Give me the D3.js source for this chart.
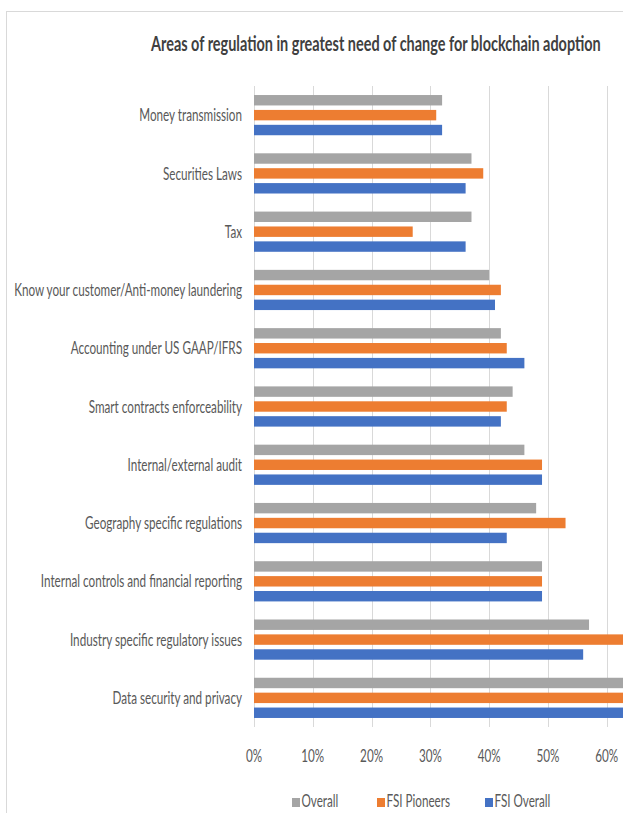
<!DOCTYPE html>
<html>
<head>
<meta charset="utf-8">
<script src="https://cdn.jsdelivr.net/npm/d3@7"></script>
<style>
  html, body { margin: 0; padding: 0; background: #fff; overflow: hidden; }
  svg { display: block; }
  text { font-family: Lato, "Open Sans", "DejaVu Sans", sans-serif; }
</style>
</head>
<body>
<svg id="chart" width="623" height="813"></svg>
<script>
// Regulation areas, listed top to bottom
const categories = [
  "Money transmission",
  "Securities Laws",
  "Tax",
  "Know your customer/Anti-money laundering",
  "Accounting under US GAAP/IFRS",
  "Smart contracts enforceability",
  "Internal/external audit",
  "Geography specific regulations",
  "Internal controls and financial reporting",
  "Industry specific regulatory issues",
  "Data security and privacy"
];

const seriesNames = ["Overall", "FSI Pioneers", "FSI Overall"];

// Share of respondents (%)
const overall     = [32, 37, 37, 40, 42, 44, 46, 48, 49, 57, 68];
const fsiPioneers = [31, 39, 27, 42, 43, 43, 49, 53, 49, 66, 72];
const fsiOverall  = [32, 36, 36, 41, 46, 42, 49, 43, 49, 56, 70];

const tickValues = [0, 10, 20, 30, 40, 50, 60];
const tickLabels = ["0%", "10%", "20%", "30%", "40%", "50%", "60%"];

const colors = ["#a5a5a5", "#ed7d31", "#4472c4"];

const title = "Areas of regulation in greatest need of change for blockchain adoption";

const svg = d3.select("#chart");

// chart frame
svg.append("rect")
  .attr("x", 6.5).attr("y", 11.5)
  .attr("width", 800).attr("height", 900)
  .attr("fill", "none").attr("stroke", "#d9d9d9").attr("stroke-width", 1);

const plot = { left: 254, top: 86, bottom: 727 };
const x = d3.scaleLinear().domain([0, 70]).range([plot.left, plot.left + 7 * 58.78]);
const y0 = d3.scaleBand().domain(categories).range([plot.top, plot.bottom])
  .paddingInner(0.31).paddingOuter(0.155);
const y1 = d3.scaleBand().domain(seriesNames).range([0, y0.bandwidth()])
  .paddingInner(0.3).paddingOuter(0);

// gridlines
svg.append("g").selectAll("line").data(tickValues).join("line")
  .attr("x1", d => Math.round(x(d)) + 0.5).attr("x2", d => Math.round(x(d)) + 0.5)
  .attr("y1", plot.top).attr("y2", plot.bottom)
  .attr("stroke", "#d9d9d9").attr("stroke-width", 1);

// bars
const rows = categories.map((c, i) => ({
  cat: c,
  vals: [overall[i], fsiPioneers[i], fsiOverall[i]]
}));
const groups = svg.append("g").selectAll("g").data(rows).join("g")
  .attr("transform", d => `translate(0,${y0(d.cat)})`);
groups.selectAll("rect")
  .data(d => d.vals.map((v, j) => ({ v, s: seriesNames[j], j })))
  .join("rect")
  .attr("x", x(0))
  .attr("y", d => y1(d.s))
  .attr("width", d => x(d.v) - x(0))
  .attr("height", y1.bandwidth())
  .attr("fill", d => colors[d.j]);

// the typeface is drawn tall and narrow: squeeze glyphs horizontally
const labelSize = 17;
const probe = svg.append("text").attr("font-size", labelSize).text(categories[3]);
const squeeze = 228 / probe.node().getComputedTextLength();
probe.remove();

// category labels
svg.append("g").selectAll("text").data(categories).join("text")
  .attr("transform", d => `translate(242,${y0(d) + y0.bandwidth() / 2}) scale(${squeeze},1)`)
  .attr("text-anchor", "end")
  .attr("dy", "0.36em")
  .attr("font-size", labelSize)
  .attr("fill", "#595959")
  .text(d => d);

// value axis labels
svg.append("g").selectAll("text").data(tickValues).join("text")
  .attr("transform", d => `translate(${x(d)},761.5) scale(${squeeze},1)`)
  .attr("text-anchor", "middle")
  .attr("font-size", labelSize)
  .attr("fill", "#595959")
  .text((d, i) => tickLabels[i]);

// legend
const legendX = [292, 377, 485];
const legend = svg.append("g").selectAll("g").data(seriesNames).join("g")
  .attr("transform", (d, i) => `translate(${legendX[i]},0)`);
legend.append("rect")
  .attr("x", 0).attr("y", 798).attr("width", 8).attr("height", 9)
  .attr("fill", (d, i) => colors[i]);
legend.append("text")
  .attr("transform", `translate(9.5,807) scale(${squeeze},1)`)
  .attr("font-size", labelSize)
  .attr("fill", "#595959")
  .text(d => d);

// title, squeezed to span 151..601
const titleText = svg.append("text")
  .attr("font-size", 21.5)
  .attr("font-weight", "bold")
  .attr("fill", "#404040")
  .text(title);
const titleSqueeze = 450 / titleText.node().getComputedTextLength();
titleText.attr("transform", `translate(151,51) scale(${titleSqueeze},1)`);
</script>
</body>
</html>
